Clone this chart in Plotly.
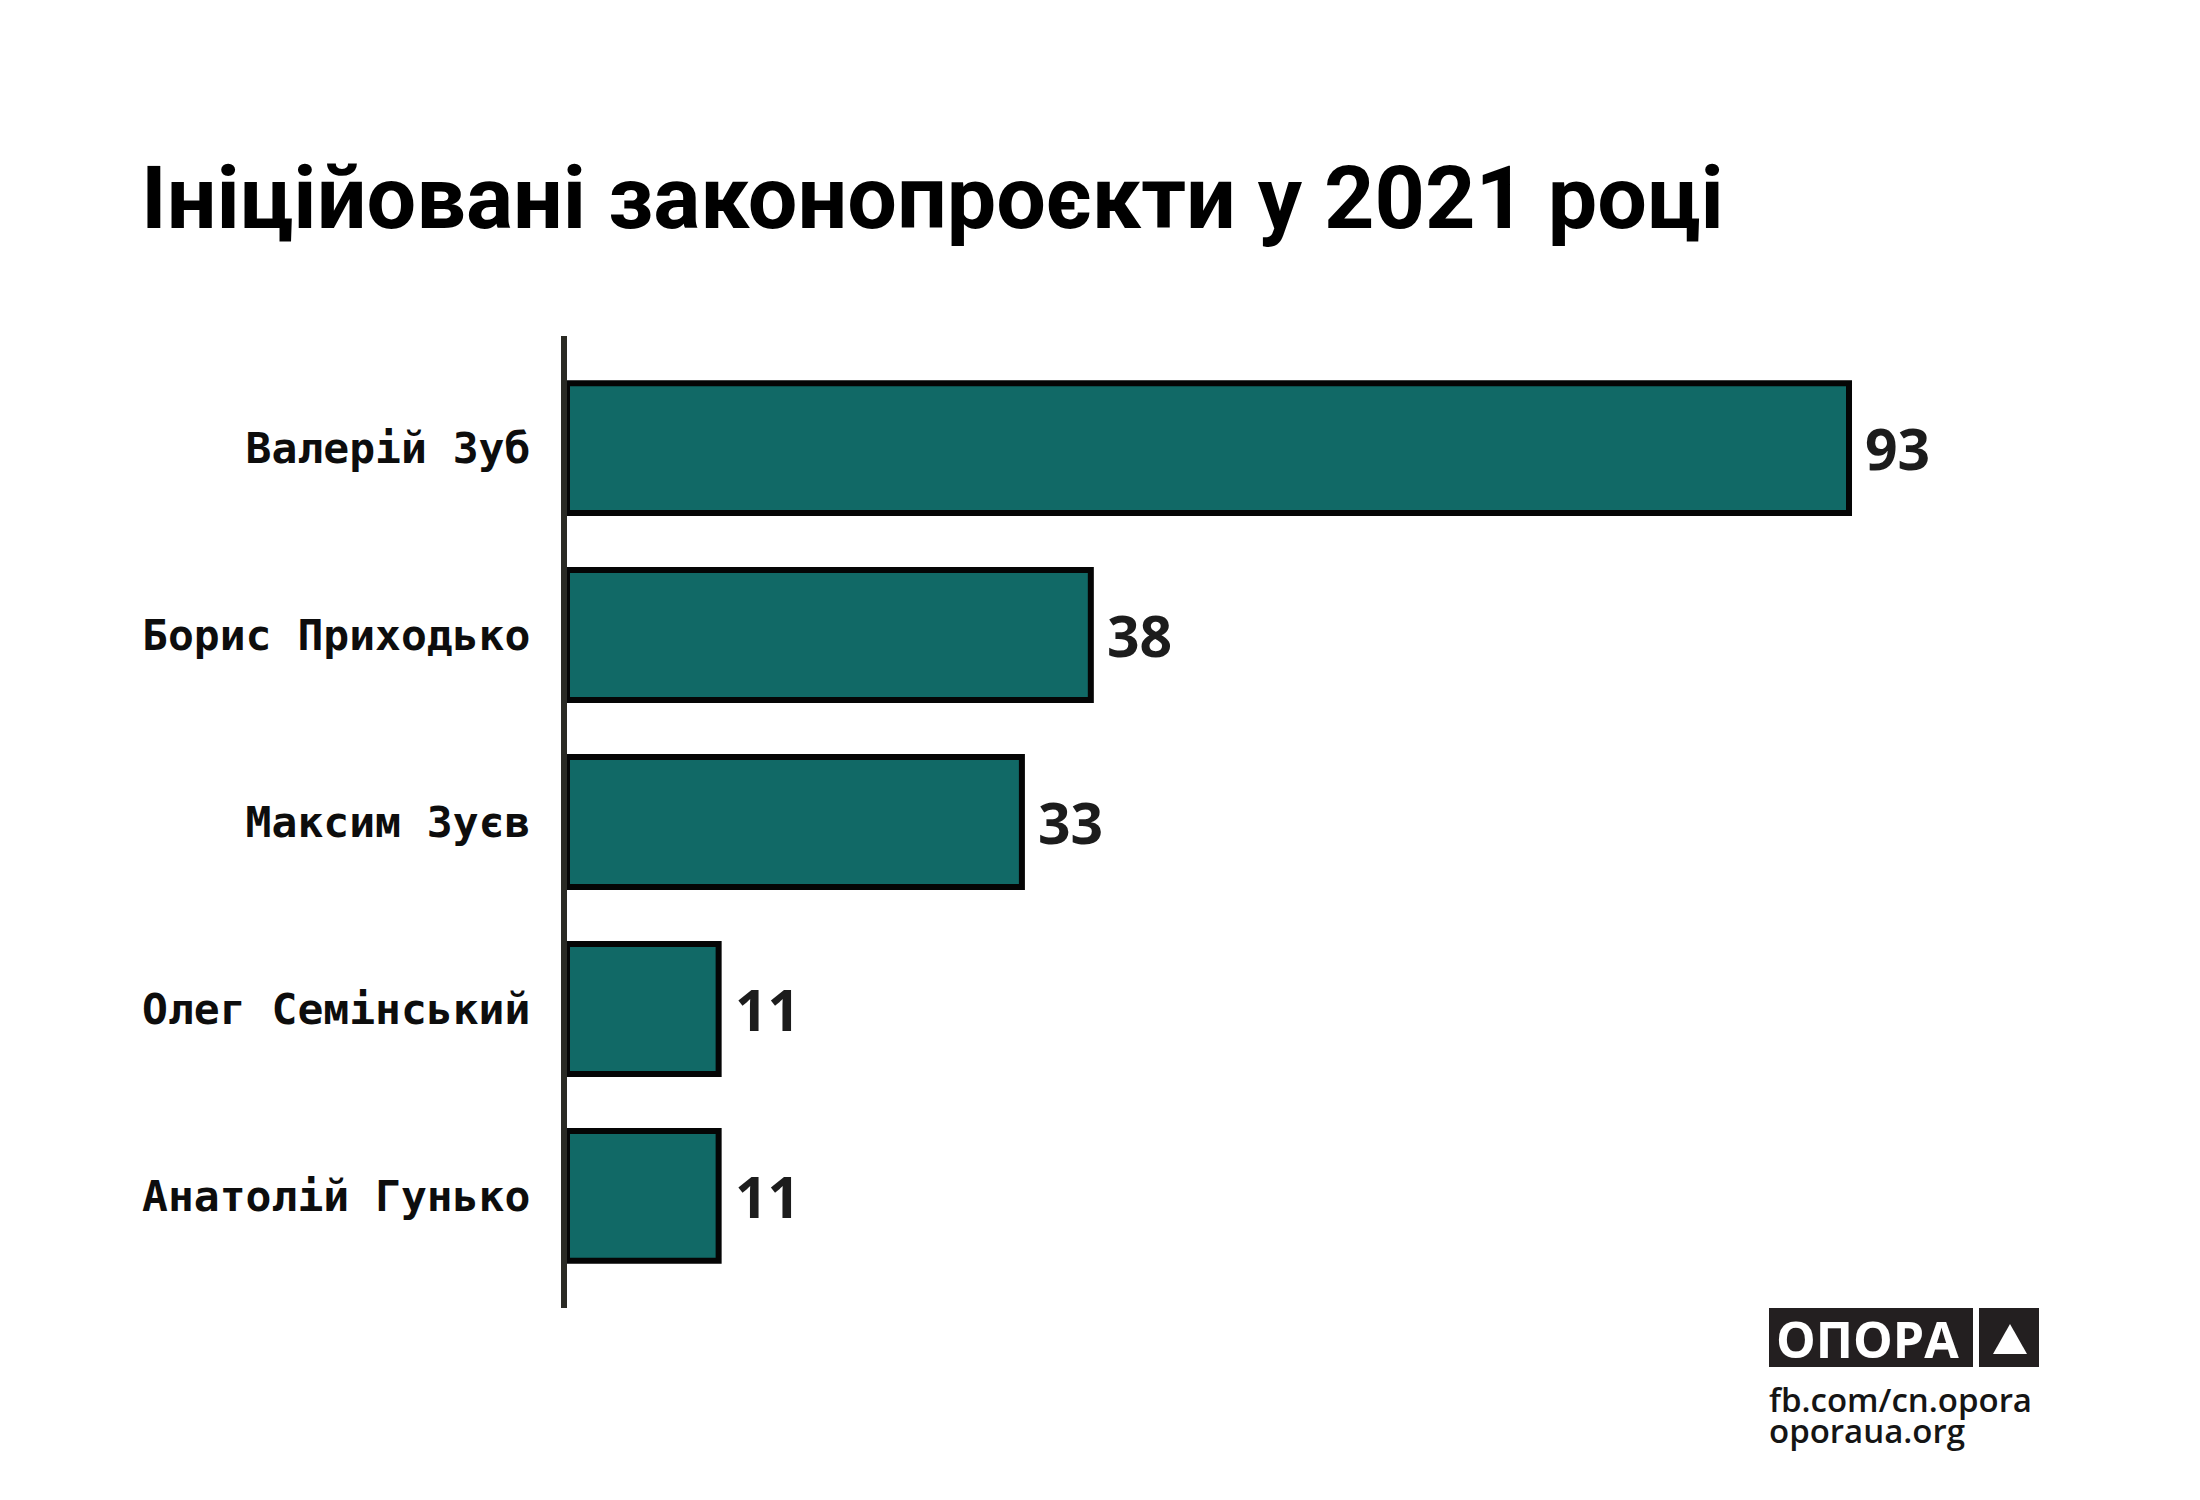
import plotly.graph_objects as go

# data
names = ["Валерій Зуб", "Борис Приходько", "Максим Зуєв", "Олег Семінський", "Анатолій Гунько"]
bills = [93, 38, 33, 11, 11]
title_text = "Ініційовані законопроєкти у 2021 році"
footer_lines = ["fb.com/cn.opora", "oporaua.org"]

W, H = 2200, 1500
L, R, T, B = 559, 100, 328, 200
plot_w = W - L - R
plot_h = H - T - B
px_per_bill = 13.785


def px_x(x):
    # page pixel -> paper fraction
    return (x - L) / plot_w


def px_y(y):
    return (H - B - y) / plot_h


fig = go.Figure()

fig.add_trace(go.Bar(
    x=bills,
    y=names,
    orientation="h",
    marker=dict(color="#116966", line=dict(color="#050505", width=6)),
    hoverinfo="skip",
))

# value labels next to each bar
for n, v in zip(names, bills):
    fig.add_annotation(
        x=v, y=n, text=str(v), showarrow=False,
        xanchor="left", yanchor="middle", xshift=14,
        font=dict(family="Open Sans", size=57, color="#1c1c1c", weight="bold"),
    )

# OPORA logo block
fig.add_shape(type="rect", xref="paper", yref="paper",
              x0=px_x(1761), x1=px_x(1965), y0=px_y(1359), y1=px_y(1300),
              fillcolor="#231f20", line=dict(width=0), layer="above")
fig.add_shape(type="rect", xref="paper", yref="paper",
              x0=px_x(1971), x1=px_x(2031), y0=px_y(1359), y1=px_y(1300),
              fillcolor="#231f20", line=dict(width=0), layer="above")
tri = "M {} {} L {} {} L {} {} Z".format(
    px_x(2002), px_y(1316), px_x(1985), px_y(1346), px_x(2019), px_y(1346))
fig.add_shape(type="path", xref="paper", yref="paper", path=tri,
              fillcolor="white", line=dict(width=0), layer="above")
fig.add_annotation(
    xref="paper", yref="paper", x=px_x(1859), y=px_y(1331),
    text="ОПОРА", showarrow=False, xanchor="center", yanchor="middle",
    font=dict(family="Open Sans", size=50, color="white", weight="bold"),
)
for i, line in enumerate(footer_lines):
    fig.add_annotation(
        xref="paper", yref="paper", x=px_x(1759), y=px_y(1391 + 31 * i),
        text=line, showarrow=False, xanchor="left", yanchor="middle",
        font=dict(family="Open Sans", size=33, color="#151515", weight=600),
    )

fig.update_layout(
    width=W, height=H,
    margin=dict(l=L, r=R, t=T, b=B, autoexpand=False),
    paper_bgcolor="white",
    plot_bgcolor="white",
    showlegend=False,
    bargap=0.305,
    title=dict(
        text=title_text,
        xref="container", yref="container",
        x=133 / W, y=1 - 189 / H,
        xanchor="left", yanchor="middle",
        font=dict(family="Roboto", size=88, color="#000000", weight="bold"),
    ),
    xaxis=dict(
        range=[0, plot_w / px_per_bill],
        visible=False, showgrid=False, zeroline=False,
    ),
    yaxis=dict(
        categoryorder="array", categoryarray=names,
        range=[4.6, -0.6],
        showline=True, linecolor="#2a2a24", linewidth=6,
        showgrid=False, zeroline=False, ticks="",
        ticklabelstandoff=22,
        tickfont=dict(family="DejaVu Sans Mono", size=43, color="#0d0d0d", weight="bold"),
    ),
)

fig.write_html("out.html")
